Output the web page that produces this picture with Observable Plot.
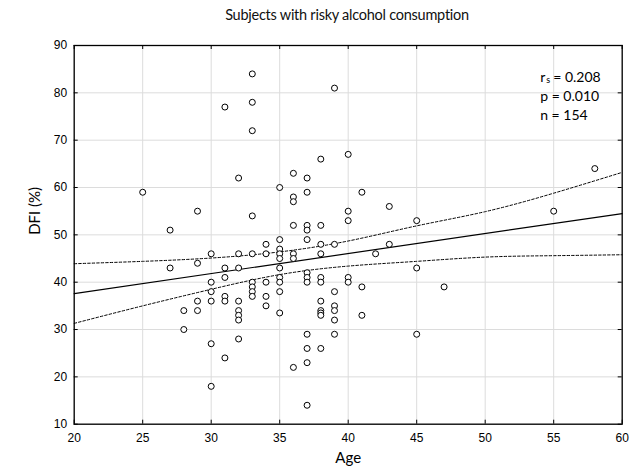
<!DOCTYPE html>
<html><head><meta charset="utf-8">
<script src="https://cdn.jsdelivr.net/npm/d3@7"></script>
<script src="https://cdn.jsdelivr.net/npm/@observablehq/plot@0.6"></script>
<style>
body{margin:0;background:#fff;}
#title{width:642px;height:30px;box-sizing:border-box;padding-left:52px;text-align:center;font-family:Lato,"Open Sans",sans-serif;font-size:14.5px;letter-spacing:-0.25px;line-height:30px;color:#111;}
</style>
</head><body>
<div id="title">Subjects with risky alcohol consumption</div>
<div id="chart"></div>
<script>
// Observed points (Age, DFI %)
const ageValues = [
  25,
  27,27,
  28,28,
  29,29,29,29,
  30,30,30,30,30,30,
  31,31,31,31,31,31,
  32,32,32,32,32,32,32,32,
  33,33,33,33,33,33,33,33,33,
  34,34,34,34,34,
  35,35,35,35,35,35,35,35,35,35,
  36,36,36,36,36,36,36,
  37,37,37,37,37,37,37,37,37,37,37,37,
  38,38,38,38,38,38,38,38,38,38,38,
  39,39,39,39,39,39,39,
  40,40,40,40,40,
  41,41,41,
  42,
  43,43,
  45,45,45,
  47,
  55,
  58
];
const dfiValues = [
  59,
  51,43,
  34,30,
  55,44,36,34,
  46,40,38,36,27,18,
  77,43,41,37,36,24,
  62,46,43,36,34,33,32,28,
  84,78,72,54,46,40,39,38,37,
  48,46,40,37,35,
  60,49,47,46,45,43,41,40,38,33.5,
  63,58,57,52,46,45,22,
  62,59,52,51,49,42,41,40,29,26,23,14,
  66,52,48,46,41,40,36,34,33.5,33,26,
  81,48,38,35,34,32,29,
  67,55,53,41,40,
  59,39,33,
  46,
  56,48,
  53,43,29,
  39,
  55,
  64
];
// Fitted line and confidence band
const fitAge = [20, 60];
const fitDfi = [37.6, 54.5];
const bandAge = [20, 25, 30, 35, 40, 45, 50, 55, 60];
const bandUpper = [43.9, 44.4, 45.1, 46.4, 48.7, 51.9, 54.9, 58.8, 63.2];
const bandLower = [31.3, 35.0, 38.5, 41.6, 43.4, 44.4, 45.3, 45.6, 45.8];
// Axis ticks
const xTicks = [20, 25, 30, 35, 40, 45, 50, 55, 60];
const yTicks = [10, 20, 30, 40, 50, 60, 70, 80, 90];
const statR = ["r", "s", "= 0.208"];
const statP = "p = 0.010";
const statN = "n = 154";

const points = ageValues.map((a, i) => ({age: a, dfi: dfiValues[i]}));
const fit = fitAge.map((a, i) => ({age: a, dfi: fitDfi[i]}));
const upper = bandAge.map((a, i) => ({age: a, dfi: bandUpper[i]}));
const lower = bandAge.map((a, i) => ({age: a, dfi: bandLower[i]}));

const W = 642, H = 444, mT = 15, mB = 50.3, mL = 73.7, mR = 20.3;
const frameH = H - mT - mB, frameW = W - mL - mR;
const tick = 4;
const labelFont = "Lato, 'Open Sans', sans-serif";
const ann = {frameAnchor: "top-right", textAnchor: "start", fontFamily: labelFont, fill: "#000"};

const chart = Plot.plot({
  width: W, height: H,
  marginTop: mT, marginBottom: mB, marginLeft: mL, marginRight: mR,
  x: {domain: [20, 60], label: null},
  y: {domain: [10, 90], label: null},
  style: {fontFamily: "'Liberation Sans', Arial, sans-serif", fontSize: "12px", background: "#fff", color: "#000", overflow: "visible"},
  marks: [
    Plot.gridX(xTicks, {stroke: "#dcdcdc", strokeOpacity: 1, strokeWidth: 1}),
    Plot.gridY(yTicks, {stroke: "#dcdcdc", strokeOpacity: 1, strokeWidth: 1}),
    // inward tick marks on all four sides
    Plot.tickX(xTicks, {x: d => d, insetTop: frameH - tick, stroke: "#000"}),
    Plot.tickX(xTicks, {x: d => d, insetBottom: frameH - tick, stroke: "#000"}),
    Plot.tickY(yTicks, {y: d => d, insetRight: frameW - tick, stroke: "#000"}),
    Plot.tickY(yTicks, {y: d => d, insetLeft: frameW - tick, stroke: "#000"}),
    Plot.axisX(xTicks, {tickSize: 0, tickPadding: 9, fontSize: 12, fill: "#000"}),
    Plot.axisY(yTicks, {tickSize: 0, tickPadding: 7, fontSize: 12, fill: "#000"}),
    Plot.line(upper, {x: "age", y: "dfi", curve: "natural", stroke: "#000", strokeWidth: 1, strokeDasharray: "2.5,2"}),
    Plot.line(lower, {x: "age", y: "dfi", curve: "natural", stroke: "#000", strokeWidth: 1, strokeDasharray: "2.5,2"}),
    Plot.line(fit, {x: "age", y: "dfi", stroke: "#000", strokeWidth: 1.2}),
    Plot.dot(points, {x: "age", y: "dfi", r: 3, stroke: "#000", strokeWidth: 1, fill: "#fff"}),
    Plot.frame({stroke: "#000", strokeWidth: 1.3}),
    // statistics annotation
    Plot.text([statR[0]], {...ann, text: d => d, dx: -82, dy: 27, fontSize: 14}),
    Plot.text([statR[1]], {...ann, text: d => d, dx: -76, dy: 31, fontSize: 9}),
    Plot.text([statR[2]], {...ann, text: d => d, dx: -69, dy: 27, fontSize: 14}),
    Plot.text([statP], {...ann, text: d => d, dx: -82, dy: 46, fontSize: 14}),
    Plot.text([statN], {...ann, text: d => d, dx: -82, dy: 65, fontSize: 14}),
    Plot.text(["Age"], {text: d => d, frameAnchor: "bottom", dy: 39, fontSize: 15, fontFamily: labelFont, fill: "#000"}),
    Plot.text(["DFI (%)"], {text: d => d, frameAnchor: "left", dx: -39, rotate: -90, fontSize: 15, fontFamily: labelFont, fill: "#000"})
  ]
});
document.getElementById("chart").appendChild(chart);
</script>
</body></html>
